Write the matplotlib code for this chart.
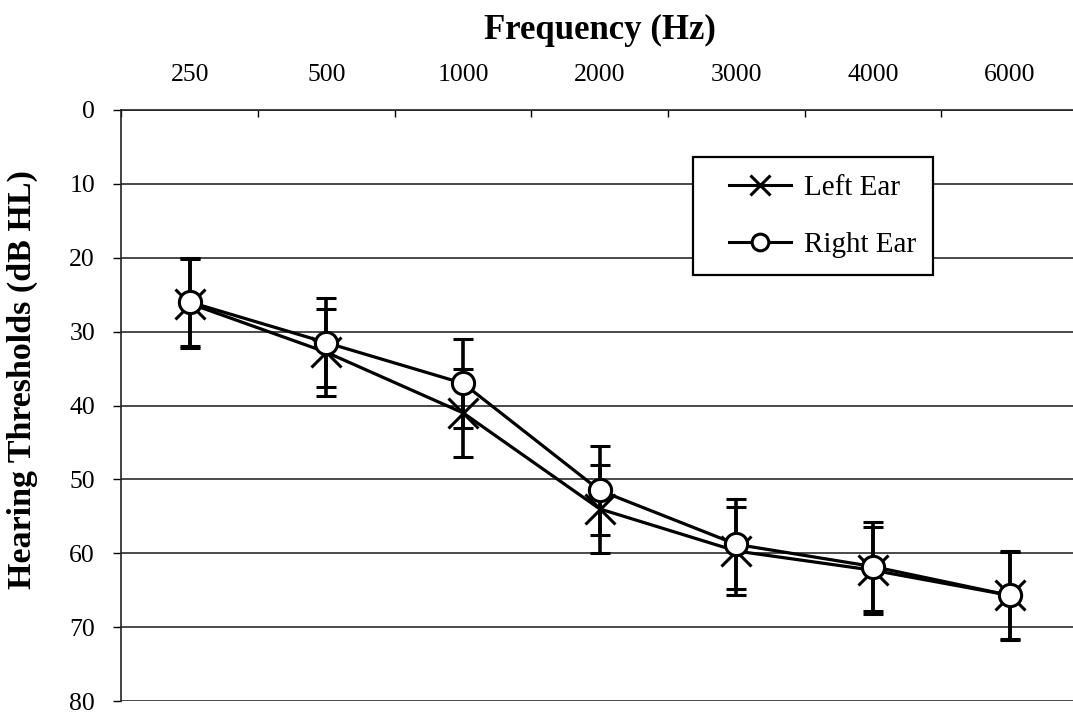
import matplotlib
matplotlib.use("Agg")
import matplotlib.pyplot as plt
import numpy as np
from matplotlib.lines import Line2D
from matplotlib.legend_handler import HandlerLine2D

freqs = ["250", "500", "1000", "2000", "3000", "4000", "6000"]
left_ear = [26.2, 32.8, 41.0, 54.0, 59.7, 62.3, 65.7]
left_err = [6.0, 5.9, 6.0, 6.0, 5.9, 5.9, 6.0]
right_ear = [26.0, 31.5, 37.0, 51.5, 58.8, 61.8, 65.7]
right_err = [6.0, 6.0, 6.0, 6.0, 6.1, 6.0, 5.9]
yticks = [0, 10, 20, 30, 40, 50, 60, 70, 80]

plt.rcParams['font.family'] = ['Liberation Serif', 'DejaVu Serif']

W, H = 1073, 715
fig = plt.figure(figsize=(W / 100, H / 100), dpi=100)
x0, x1 = 121.5, 1078.0
ytop, ybot = 110.0, 701.0
ax = fig.add_axes([x0 / W, 1 - ybot / H, (x1 - x0) / W, (ybot - ytop) / H])

x = np.arange(len(freqs))

# Left ear (x markers)
ax.errorbar(x, left_ear, yerr=left_err, color='black', lw=2.3, elinewidth=2.6,
            capsize=7, capthick=2.8, marker='x', markersize=22, mew=2.2,
            mfc='none', mec='black', label='Left Ear', zorder=3)
# Right ear (circle markers)
ax.errorbar(x, right_ear, yerr=right_err, color='black', lw=2.3, elinewidth=2.6,
            capsize=7, capthick=2.8, marker='o', markersize=16, mew=2.2,
            mfc='white', mec='black', label='Right Ear', zorder=4)

ax.set_xlim(-0.5, len(freqs) - 0.5)
ax.set_ylim(80, 0)
ax.set_yticks(yticks)
ax.set_yticklabels([str(v) for v in yticks], fontsize=18.5)
ax.yaxis.grid(True, color='#2a2a2a', lw=1.2)
ax.set_axisbelow(True)

ax.xaxis.tick_top()
ax.set_xticks(x)
ax.set_xticklabels(freqs, fontsize=18.5)
ax.tick_params(axis='x', which='major', length=0, pad=17)
ax.set_xticks(np.arange(-0.5, len(freqs), 1.0), minor=True)
ax.tick_params(axis='x', which='minor', direction='in', length=5, width=1, top=True, bottom=False)
ax.tick_params(axis='y', direction='out', length=6, width=1, pad=13)

for s in ['right', 'bottom']:
    ax.spines[s].set_visible(False)
ax.spines['left'].set_color('#222222')
ax.spines['left'].set_linewidth(1.2)
ax.spines['top'].set_color('#222222')
ax.spines['top'].set_linewidth(1.2)

fig.text(600 / W, 1 - 30 / H, 'Frequency (Hz)', ha='center', va='center',
         fontsize=25, fontweight='bold')
fig.text(22 / W, 1 - 380 / H, 'Hearing Thresholds (dB HL)', ha='center', va='center',
         rotation=90, fontsize=24.5, fontweight='bold')

labels = ['Left Ear', 'Right Ear']
h2 = [Line2D([], [], color='black', lw=2.2, marker='x', markersize=14, mew=2.2),
      Line2D([], [], color='black', lw=2.2, marker='o', markersize=12, mew=2.2, mfc='white')]
hmap = {h: HandlerLine2D(xpad=0.65) for h in h2}
leg = ax.legend(h2, labels, loc='upper left', handler_map=hmap,
                bbox_to_anchor=((693 - x0) / (x1 - x0), 1 - (157 - ytop) / (ybot - ytop)),
                fontsize=21, frameon=True, fancybox=False, edgecolor='black',
                framealpha=1, borderpad=0.6, labelspacing=1.05, handlelength=2.75,
                handletextpad=0.45, borderaxespad=0)
leg.get_frame().set_linewidth(1.6)

fig.savefig('out.png', dpi=100)
